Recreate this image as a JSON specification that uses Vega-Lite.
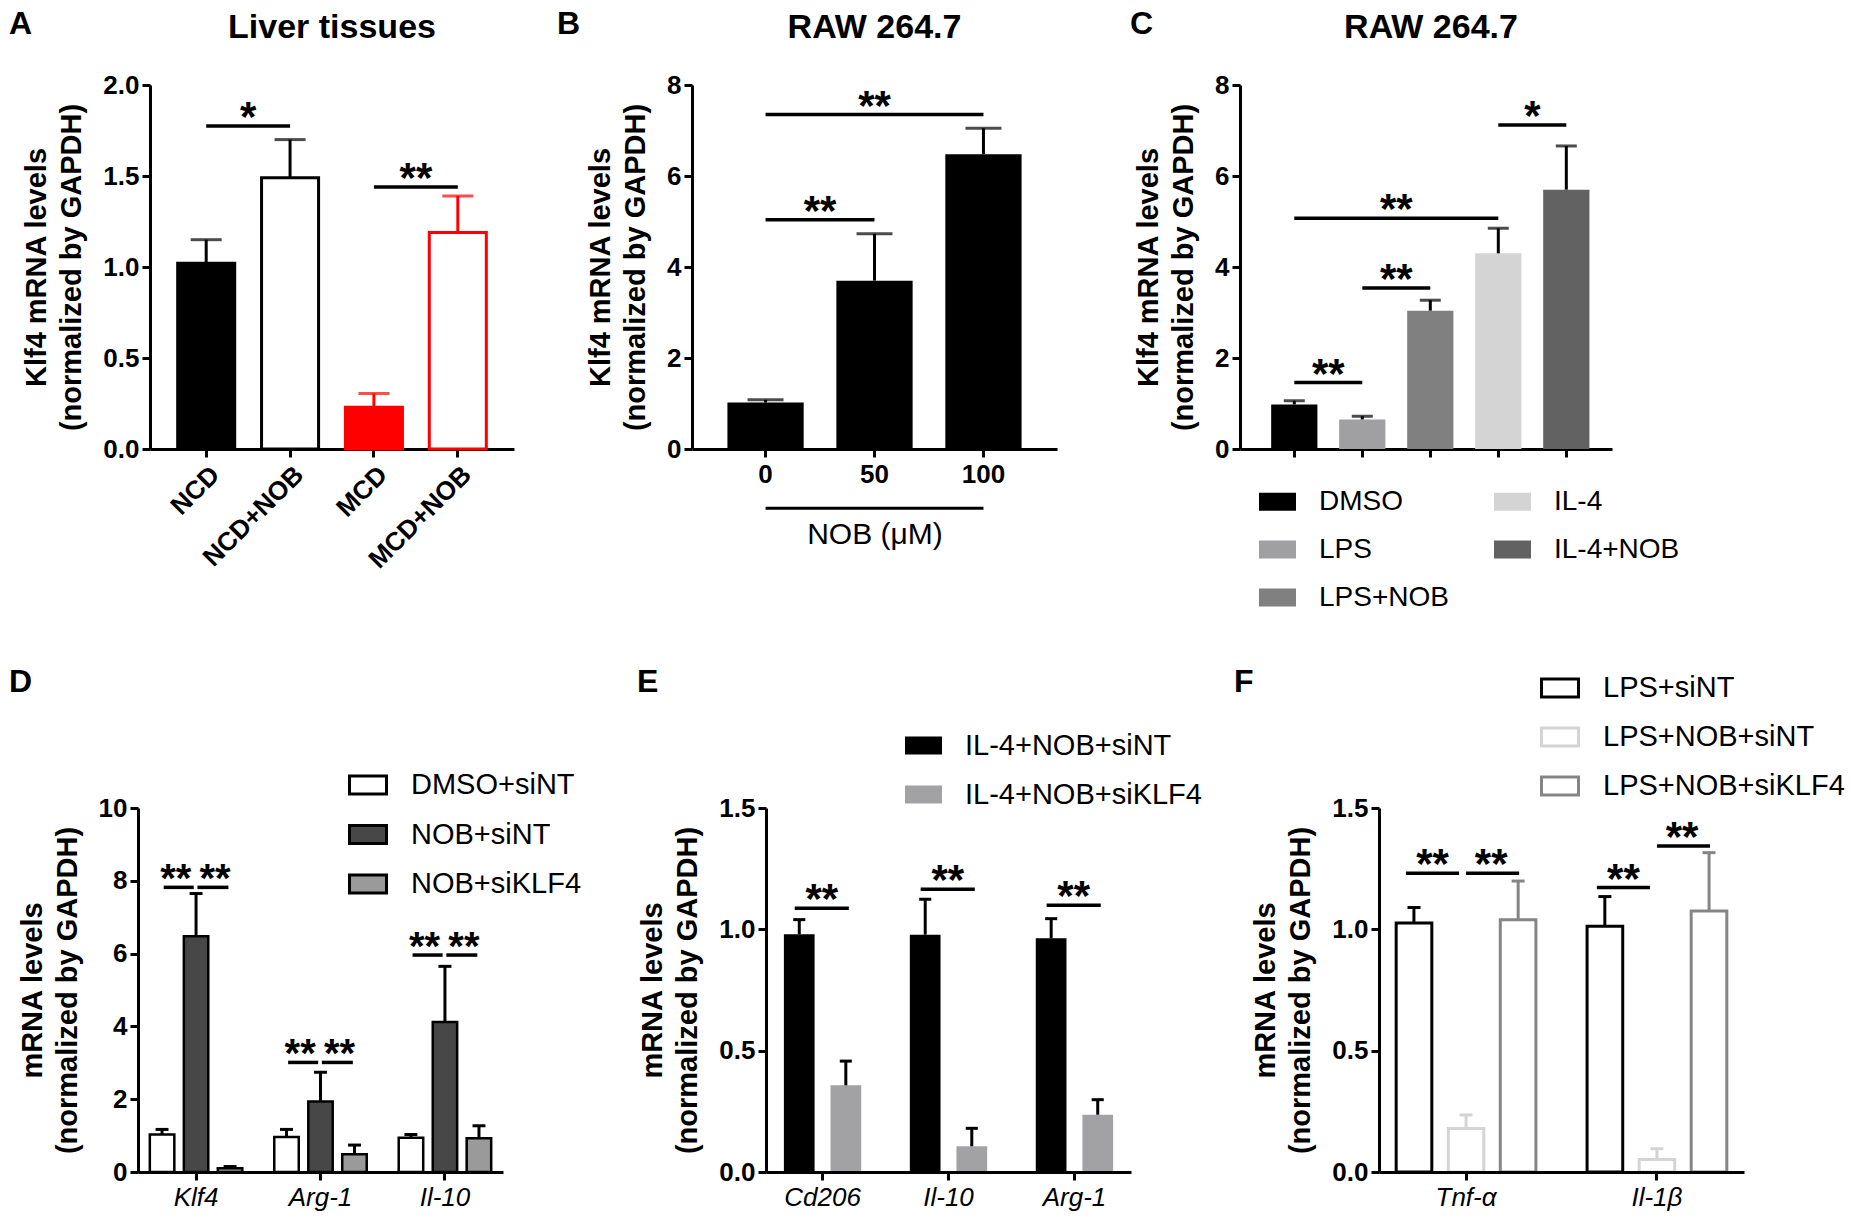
{
  "$schema": "https://vega.github.io/schema/vega-lite/v6.json",
  "padding": {"left": 9, "top": 8, "right": 4, "bottom": 4},
  "background": "white",
  "config": {
    "font": "Liberation Sans",
    "view": {"stroke": null},
    "axis": {"domainColor": "#000", "domainWidth": 3, "tickColor": "#000", "tickWidth": 3, "tickSize": 8, "labelColor": "#000", "labelFont": "Liberation Sans", "labelFontSize": 26, "labelFontWeight": "bold", "labelPadding": 3, "titleFont": "Liberation Sans", "titleFontSize": 29, "titleFontWeight": "bold", "titleColor": "#000", "titleLineHeight": 35, "grid": false, "labelOverlap": false, "labelLimit": 400},
    "axisY": {"titlePadding": 16},
    "axisX": {"labelPadding": 4},
    "legend": {"symbolType": "M-1,-0.49H1V0.49H-1Z", "symbolSize": 1369, "labelOffset": 23, "labelFont": "Liberation Sans", "labelColor": "#000", "labelLimit": 600, "padding": 0, "titlePadding": 0},
    "title": {"font": "Liberation Sans", "fontWeight": "bold", "color": "#000"}
  },
  "datasets": {
    "A": [
      {"group": "NCD", "mean": 1.02, "upper": 1.15},
      {"group": "NCD+NOB", "mean": 1.49, "upper": 1.70},
      {"group": "MCD", "mean": 0.23, "upper": 0.305},
      {"group": "MCD+NOB", "mean": 1.19, "upper": 1.39}
    ],
    "A_sig": [
      {"from": "NCD", "to": "NCD+NOB", "y": 1.775, "label": "*"},
      {"from": "MCD", "to": "MCD+NOB", "y": 1.44, "label": "**"}
    ],
    "B": [
      {"dose": "0", "mean": 1.02, "upper": 1.08},
      {"dose": "50", "mean": 3.70, "upper": 4.73},
      {"dose": "100", "mean": 6.48, "upper": 7.05}
    ],
    "B_sig": [
      {"from": "0", "to": "50", "y": 5.04},
      {"from": "0", "to": "100", "y": 7.35}
    ],
    "B_star": [
      {"at": "0", "y": 5.04, "pos": "half", "label": "**"},
      {"at": "50", "y": 7.35, "pos": "center", "label": "**"}
    ],
    "B_line": [
      {"from": "0", "to": "100", "y": -1.3}
    ],
    "C": [
      {"t": "DMSO", "mean": 0.98, "upper": 1.06},
      {"t": "LPS", "mean": 0.65, "upper": 0.72},
      {"t": "LPS+NOB", "mean": 3.04, "upper": 3.27},
      {"t": "IL-4", "mean": 4.30, "upper": 4.85},
      {"t": "IL-4+NOB", "mean": 5.70, "upper": 6.66}
    ],
    "C_sig": [
      {"from": "DMSO", "to": "LPS", "y": 1.46},
      {"from": "LPS", "to": "LPS+NOB", "y": 3.54},
      {"from": "DMSO", "to": "IL-4", "y": 5.07},
      {"from": "IL-4", "to": "IL-4+NOB", "y": 7.12}
    ],
    "C_star": [
      {"at": "DMSO", "y": 1.46, "label": "**"},
      {"at": "LPS", "y": 3.54, "label": "**"},
      {"at": "LPS", "y": 5.07, "label": "**"},
      {"at": "IL-4", "y": 7.12, "label": "*"}
    ],
    "D": [
      {"gene": "Klf4", "series": "DMSO+siNT", "mean": 1.03, "upper": 1.17},
      {"gene": "Klf4", "series": "NOB+siNT", "mean": 6.48, "upper": 7.65},
      {"gene": "Klf4", "series": "NOB+siKLF4", "mean": 0.10, "upper": 0.15},
      {"gene": "Arg-1", "series": "DMSO+siNT", "mean": 0.96, "upper": 1.17},
      {"gene": "Arg-1", "series": "NOB+siNT", "mean": 1.94, "upper": 2.74},
      {"gene": "Arg-1", "series": "NOB+siKLF4", "mean": 0.49, "upper": 0.74},
      {"gene": "Il-10", "series": "DMSO+siNT", "mean": 0.94, "upper": 1.03},
      {"gene": "Il-10", "series": "NOB+siNT", "mean": 4.12, "upper": 5.65},
      {"gene": "Il-10", "series": "NOB+siKLF4", "mean": 0.93, "upper": 1.27}
    ],
    "D_sig": [
      {"gene": "Klf4", "side": "L", "y": 7.82},
      {"gene": "Klf4", "side": "R", "y": 7.82},
      {"gene": "Arg-1", "side": "L", "y": 3.01},
      {"gene": "Arg-1", "side": "R", "y": 3.01},
      {"gene": "Il-10", "side": "L", "y": 5.96},
      {"gene": "Il-10", "side": "R", "y": 5.96}
    ],
    "E": [
      {"gene": "Cd206", "series": "IL-4+NOB+siNT", "mean": 0.98, "upper": 1.04},
      {"gene": "Cd206", "series": "IL-4+NOB+siKLF4", "mean": 0.357, "upper": 0.457},
      {"gene": "Il-10", "series": "IL-4+NOB+siNT", "mean": 0.978, "upper": 1.124},
      {"gene": "Il-10", "series": "IL-4+NOB+siKLF4", "mean": 0.106, "upper": 0.18},
      {"gene": "Arg-1", "series": "IL-4+NOB+siNT", "mean": 0.963, "upper": 1.044},
      {"gene": "Arg-1", "series": "IL-4+NOB+siKLF4", "mean": 0.236, "upper": 0.298}
    ],
    "E_sig": [
      {"gene": "Cd206", "y": 1.087},
      {"gene": "Il-10", "y": 1.165},
      {"gene": "Arg-1", "y": 1.099}
    ],
    "F": [
      {"gene": "Tnf-α", "series": "LPS+siNT", "mean": 1.026, "upper": 1.09},
      {"gene": "Tnf-α", "series": "LPS+NOB+siNT", "mean": 0.179, "upper": 0.235},
      {"gene": "Tnf-α", "series": "LPS+NOB+siKLF4", "mean": 1.04, "upper": 1.199},
      {"gene": "Il-1β", "series": "LPS+siNT", "mean": 1.013, "upper": 1.135},
      {"gene": "Il-1β", "series": "LPS+NOB+siNT", "mean": 0.051, "upper": 0.096},
      {"gene": "Il-1β", "series": "LPS+NOB+siKLF4", "mean": 1.076, "upper": 1.316}
    ],
    "F_sig": [
      {"gene": "Tnf-α", "side": "L", "y": 1.231},
      {"gene": "Tnf-α", "side": "R", "y": 1.231},
      {"gene": "Il-1β", "side": "L", "y": 1.172},
      {"gene": "Il-1β", "side": "R", "y": 1.343}
    ]
  },
  "vconcat": [
    {
      "hconcat": [
        {"width": 13, "height": 364, "data": {"values": [{}]}, "mark": {"type": "rect", "fillOpacity": 0, "strokeOpacity": 0}, "encoding": {},
         "title": {"text": "A", "anchor": "start", "frame": "group", "dx": -128, "offset": 19, "fontSize": 32, "baseline": "alphabetic"}},
        {
          "width": 364, "height": 364,
          "title": {"text": "Liver tissues", "fontSize": 34, "anchor": "middle", "offset": 0, "baseline": "alphabetic"},
          "layer": [
            {"data": {"name": "A"}, "mark": {"type": "bar", "strokeWidth": 3},
             "encoding": {
               "x": {"field": "group", "type": "nominal", "scale": {"type": "band", "domain": ["NCD", "NCD+NOB", "MCD", "MCD+NOB"], "paddingInner": 0.32, "paddingOuter": 0.33}, "axis": {"title": null, "labelAngle": -45}},
               "y": {"field": "mean", "type": "quantitative", "scale": {"domain": [0, 2], "nice": false}, "axis": {"values": [0, 0.5, 1, 1.5, 2], "format": ".1f", "title": ["Klf4 mRNA levels", "(normalized by GAPDH)"]}},
               "fill": {"field": "group", "type": "nominal", "scale": {"domain": ["NCD", "NCD+NOB", "MCD", "MCD+NOB"], "range": ["#000000", "#ffffff", "#ff0000", "#ffffff"]}, "legend": null},
               "stroke": {"field": "group", "type": "nominal", "scale": {"domain": ["NCD", "NCD+NOB", "MCD", "MCD+NOB"], "range": ["#000000", "#000000", "#ff0000", "#ff0000"]}, "legend": null}
             }},
            {"data": {"name": "A"}, "mark": {"type": "rule", "strokeWidth": 3},
             "encoding": {
               "x": {"field": "group", "type": "nominal"},
               "y": {"field": "mean", "type": "quantitative"},
               "y2": {"field": "upper"},
               "color": {"field": "group", "type": "nominal", "scale": {"domain": ["NCD", "NCD+NOB", "MCD", "MCD+NOB"], "range": ["#000000", "#000000", "#ff0000", "#ff0000"]}, "legend": null}
             }},
            {"data": {"name": "A"}, "mark": {"type": "tick", "orient": "horizontal", "thickness": 3, "size": 31},
             "encoding": {
               "x": {"field": "group", "type": "nominal"},
               "y": {"field": "upper", "type": "quantitative"},
               "color": {"field": "group", "type": "nominal", "legend": null}
             }},
            {"data": {"name": "A_sig"}, "mark": {"type": "rule", "strokeWidth": 3.5, "color": "#000"},
             "encoding": {"x": {"field": "from", "type": "nominal"}, "x2": {"field": "to"}, "y": {"field": "y", "type": "quantitative"}}},
            {"data": {"name": "A_sig"}, "mark": {"type": "text", "fontSize": 42, "fontWeight": "bold", "baseline": "alphabetic", "dx": 42, "dy": 5, "color": "#000"},
             "encoding": {"x": {"field": "from", "type": "nominal"}, "y": {"field": "y", "type": "quantitative"}, "text": {"field": "label"}}}
          ]
        },
        {"width": 178, "height": 364, "data": {"values": [{}]}, "mark": {"type": "rect", "fillOpacity": 0, "strokeOpacity": 0}, "encoding": {},
         "title": {"text": "B", "anchor": "start", "frame": "group", "dx": 43, "offset": 19, "fontSize": 32, "baseline": "alphabetic"}},
        {
          "width": 365, "height": 364,
          "title": {"text": "RAW 264.7", "fontSize": 34, "anchor": "middle", "offset": 0, "baseline": "alphabetic"},
          "layer": [
            {"data": {"name": "B"}, "mark": {"type": "bar", "color": "#000"},
             "encoding": {
               "x": {"field": "dose", "type": "nominal", "scale": {"type": "band", "domain": ["0", "50", "100"], "paddingInner": 0.3, "paddingOuter": 0.325}, "axis": {"title": "NOB (μM)", "labelAngle": 0, "titleFontWeight": "normal", "titleFontSize": 30, "titlePadding": 32}},
               "y": {"field": "mean", "type": "quantitative", "scale": {"domain": [0, 8], "nice": false}, "axis": {"values": [0, 2, 4, 6, 8], "title": ["Klf4 mRNA levels", "(normalized by GAPDH)"]}}
             }},
            {"data": {"name": "B"}, "mark": {"type": "rule", "strokeWidth": 3, "color": "#000"},
             "encoding": {"x": {"field": "dose", "type": "nominal"}, "y": {"field": "mean", "type": "quantitative"}, "y2": {"field": "upper"}}},
            {"data": {"name": "B"}, "mark": {"type": "tick", "orient": "horizontal", "thickness": 3, "size": 36, "color": "#000"},
             "encoding": {"x": {"field": "dose", "type": "nominal"}, "y": {"field": "upper", "type": "quantitative"}}},
            {"data": {"name": "B_sig"}, "mark": {"type": "rule", "strokeWidth": 3.5, "color": "#000"},
             "encoding": {"x": {"field": "from", "type": "nominal"}, "x2": {"field": "to"}, "y": {"field": "y", "type": "quantitative"}}},
            {"data": {"name": "B_line"}, "mark": {"type": "rule", "strokeWidth": 3, "color": "#000"},
             "encoding": {"x": {"field": "from", "type": "nominal"}, "x2": {"field": "to"}, "y": {"field": "y", "type": "quantitative"}}},
            {"data": {"name": "B_star"}, "transform": [{"filter": "datum.pos === 'half'"}], "mark": {"type": "text", "fontSize": 42, "fontWeight": "bold", "baseline": "alphabetic", "dx": 54.5, "dy": 5, "color": "#000"},
             "encoding": {"x": {"field": "at", "type": "nominal"}, "y": {"field": "y", "type": "quantitative"}, "text": {"field": "label"}}},
            {"data": {"name": "B_star"}, "transform": [{"filter": "datum.pos === 'center'"}], "mark": {"type": "text", "fontSize": 42, "fontWeight": "bold", "baseline": "alphabetic", "dy": 5, "color": "#000"},
             "encoding": {"x": {"field": "at", "type": "nominal"}, "y": {"field": "y", "type": "quantitative"}, "text": {"field": "label"}}}
          ]
        },
        {"width": 183, "height": 364, "data": {"values": [{}]}, "mark": {"type": "rect", "fillOpacity": 0, "strokeOpacity": 0}, "encoding": {},
         "title": {"text": "C", "anchor": "start", "frame": "group", "dx": 73, "offset": 19, "fontSize": 32, "baseline": "alphabetic"}},
        {
          "width": 372, "height": 364,
          "title": {"text": "RAW 264.7", "fontSize": 34, "anchor": "middle", "dx": 5, "offset": 0, "baseline": "alphabetic"},
          "layer": [
            {"data": {"name": "C"}, "mark": {"type": "bar"},
             "encoding": {
               "x": {"field": "t", "type": "nominal", "scale": {"type": "band", "domain": ["DMSO", "LPS", "LPS+NOB", "IL-4", "IL-4+NOB"], "paddingInner": 0.32, "paddingOuter": 0.395, "align": 0.58}, "axis": {"title": null, "labels": false}},
               "y": {"field": "mean", "type": "quantitative", "scale": {"domain": [0, 8], "nice": false}, "axis": {"values": [0, 2, 4, 6, 8], "title": ["Klf4 mRNA levels", "(normalized by GAPDH)"]}},
               "fill": {"field": "t", "type": "nominal", "scale": {"domain": ["DMSO", "LPS", "LPS+NOB", "IL-4", "IL-4+NOB"], "range": ["#000000", "#a0a0a3", "#808080", "#d4d4d4", "#626262"]},
                        "legend": {"title": null, "orient": "none", "legendX": 19, "legendY": 398, "columns": 2, "columnPadding": 45, "rowPadding": 15, "labelFontSize": 28, "symbolStrokeWidth": 0}}
             }},
            {"data": {"name": "C"}, "mark": {"type": "rule", "strokeWidth": 3, "color": "#000"},
             "encoding": {"x": {"field": "t", "type": "nominal"}, "y": {"field": "mean", "type": "quantitative"}, "y2": {"field": "upper"}}},
            {"data": {"name": "C"}, "mark": {"type": "tick", "orient": "horizontal", "thickness": 3, "size": 21, "color": "#000"},
             "encoding": {"x": {"field": "t", "type": "nominal"}, "y": {"field": "upper", "type": "quantitative"}}},
            {"data": {"name": "C_sig"}, "mark": {"type": "rule", "strokeWidth": 3.5, "color": "#000"},
             "encoding": {"x": {"field": "from", "type": "nominal"}, "x2": {"field": "to"}, "y": {"field": "y", "type": "quantitative"}}},
            {"data": {"name": "C_star"}, "mark": {"type": "text", "fontSize": 42, "fontWeight": "bold", "baseline": "alphabetic", "dx": 34, "dy": 5, "color": "#000"},
             "encoding": {"x": {"field": "at", "type": "nominal"}, "y": {"field": "y", "type": "quantitative"}, "text": {"field": "label"}}}
          ]
        }
      ],
      "spacing": 0,
      "bounds": "flush",
      "resolve": {"scale": {"fill": "independent", "stroke": "independent", "color": "independent"}}
    },
    {
      "hconcat": [
        {"width": 1, "height": 364, "data": {"values": [{}]}, "mark": {"type": "rect", "fillOpacity": 0, "strokeOpacity": 0}, "encoding": {},
         "title": {"text": "D", "anchor": "start", "frame": "group", "dx": -128, "offset": 84, "fontSize": 32, "baseline": "alphabetic"}},
        {
          "width": 365, "height": 364,
          "layer": [
            {"data": {"name": "D"}, "transform": [{"filter": "datum.series === 'DMSO+siNT'"}], "mark": {"type": "rect", "stroke": "#000", "strokeWidth": 2.5},
             "encoding": {
               "x": {"field": "gene", "type": "nominal", "bandPosition": 0, "scale": {"type": "band", "domain": ["Klf4", "Arg-1", "Il-10"], "paddingInner": 0.257, "paddingOuter": 0.095}, "axis": {"title": null, "labelAngle": 0, "labelFontStyle": "italic", "labelFontWeight": "normal"}},
               "x2": {"field": "gene", "bandPosition": 0.265},
               "y": {"field": "mean", "type": "quantitative", "scale": {"domain": [0, 10], "nice": false}, "axis": {"values": [0, 2, 4, 6, 8, 10], "title": ["mRNA levels", "(normalized by GAPDH)"]}},
               "y2": {"datum": 0},
               "fill": {"field": "series", "type": "nominal", "scale": {"domain": ["DMSO+siNT", "NOB+siNT", "NOB+siKLF4"], "range": ["#ffffff", "#474747", "#9a9a9a"]},
                        "legend": {"title": null, "orient": "none", "legendX": 210, "legendY": -43, "rowPadding": 13.5, "labelFontSize": 29, "symbolStrokeColor": "#000", "symbolStrokeWidth": 3}}
             }},
            {"data": {"name": "D"}, "transform": [{"filter": "datum.series === 'NOB+siNT'"}], "mark": {"type": "rect", "stroke": "#000", "strokeWidth": 2.5},
             "encoding": {
               "x": {"field": "gene", "type": "nominal", "bandPosition": 0.368}, "x2": {"field": "gene", "bandPosition": 0.632},
               "y": {"field": "mean", "type": "quantitative"}, "y2": {"datum": 0},
               "fill": {"field": "series", "type": "nominal", "legend": {"title": null, "orient": "none", "legendX": 210, "legendY": -43, "rowPadding": 13.5, "labelFontSize": 29, "symbolStrokeColor": "#000", "symbolStrokeWidth": 3}}
             }},
            {"data": {"name": "D"}, "transform": [{"filter": "datum.series === 'NOB+siKLF4'"}], "mark": {"type": "rect", "stroke": "#000", "strokeWidth": 2.5},
             "encoding": {
               "x": {"field": "gene", "type": "nominal", "bandPosition": 0.735}, "x2": {"field": "gene", "bandPosition": 1},
               "y": {"field": "mean", "type": "quantitative"}, "y2": {"datum": 0},
               "fill": {"field": "series", "type": "nominal", "legend": {"title": null, "orient": "none", "legendX": 210, "legendY": -43, "rowPadding": 13.5, "labelFontSize": 29, "symbolStrokeColor": "#000", "symbolStrokeWidth": 3}}
             }},
            {"data": {"name": "D"}, "transform": [{"filter": "datum.series === 'DMSO+siNT'"}], "mark": {"type": "rule", "strokeWidth": 3, "color": "#000"},
             "encoding": {"x": {"field": "gene", "type": "nominal", "bandPosition": 0.132}, "y": {"field": "mean", "type": "quantitative"}, "y2": {"field": "upper"}}},
            {"data": {"name": "D"}, "transform": [{"filter": "datum.series === 'NOB+siNT'"}], "mark": {"type": "rule", "strokeWidth": 3, "color": "#000"},
             "encoding": {"x": {"field": "gene", "type": "nominal", "bandPosition": 0.5}, "y": {"field": "mean", "type": "quantitative"}, "y2": {"field": "upper"}}},
            {"data": {"name": "D"}, "transform": [{"filter": "datum.series === 'NOB+siKLF4'"}], "mark": {"type": "rule", "strokeWidth": 3, "color": "#000"},
             "encoding": {"x": {"field": "gene", "type": "nominal", "bandPosition": 0.868}, "y": {"field": "mean", "type": "quantitative"}, "y2": {"field": "upper"}}},
            {"data": {"name": "D"}, "transform": [{"filter": "datum.series === 'DMSO+siNT'"}], "mark": {"type": "rule", "strokeWidth": 3, "color": "#000"},
             "encoding": {"x": {"field": "gene", "type": "nominal", "bandPosition": 0.062}, "x2": {"field": "gene", "bandPosition": 0.202}, "y": {"field": "upper", "type": "quantitative"}}},
            {"data": {"name": "D"}, "transform": [{"filter": "datum.series === 'NOB+siNT'"}], "mark": {"type": "rule", "strokeWidth": 3, "color": "#000"},
             "encoding": {"x": {"field": "gene", "type": "nominal", "bandPosition": 0.43}, "x2": {"field": "gene", "bandPosition": 0.57}, "y": {"field": "upper", "type": "quantitative"}}},
            {"data": {"name": "D"}, "transform": [{"filter": "datum.series === 'NOB+siKLF4'"}], "mark": {"type": "rule", "strokeWidth": 3, "color": "#000"},
             "encoding": {"x": {"field": "gene", "type": "nominal", "bandPosition": 0.798}, "x2": {"field": "gene", "bandPosition": 0.938}, "y": {"field": "upper", "type": "quantitative"}}},
            {"data": {"name": "D_sig"}, "transform": [{"filter": "datum.side === 'L'"}], "mark": {"type": "rule", "strokeWidth": 3.5, "color": "#000"},
             "encoding": {"x": {"field": "gene", "type": "nominal", "bandPosition": 0.15}, "x2": {"field": "gene", "bandPosition": 0.475}, "y": {"field": "y", "type": "quantitative"}}},
            {"data": {"name": "D_sig"}, "transform": [{"filter": "datum.side === 'R'"}], "mark": {"type": "rule", "strokeWidth": 3.5, "color": "#000"},
             "encoding": {"x": {"field": "gene", "type": "nominal", "bandPosition": 0.515}, "x2": {"field": "gene", "bandPosition": 0.85}, "y": {"field": "y", "type": "quantitative"}}},
            {"data": {"name": "D_sig"}, "transform": [{"filter": "datum.side === 'L'"}], "mark": {"type": "text", "fontSize": 40, "fontWeight": "bold", "baseline": "alphabetic", "dy": 5, "color": "#000", "text": "**"},
             "encoding": {"x": {"field": "gene", "type": "nominal", "bandPosition": 0.28}, "y": {"field": "y", "type": "quantitative"}}},
            {"data": {"name": "D_sig"}, "transform": [{"filter": "datum.side === 'R'"}], "mark": {"type": "text", "fontSize": 40, "fontWeight": "bold", "baseline": "alphabetic", "dy": 5, "color": "#000", "text": "**"},
             "encoding": {"x": {"field": "gene", "type": "nominal", "bandPosition": 0.705}, "y": {"field": "y", "type": "quantitative"}}}
          ]
        },
        {"width": 263, "height": 364, "data": {"values": [{}]}, "mark": {"type": "rect", "fillOpacity": 0, "strokeOpacity": 0}, "encoding": {},
         "title": {"text": "E", "anchor": "start", "frame": "group", "dx": 134, "offset": 84, "fontSize": 32, "baseline": "alphabetic"}},
        {
          "width": 365, "height": 364,
          "layer": [
            {"data": {"name": "E"}, "transform": [{"filter": "datum.series === 'IL-4+NOB+siNT'"}], "mark": {"type": "rect"},
             "encoding": {
               "x": {"field": "gene", "type": "nominal", "bandPosition": 0, "scale": {"type": "band", "domain": ["Cd206", "Il-10", "Arg-1"], "paddingInner": 0.386, "paddingOuter": 0.142}, "axis": {"title": null, "labelAngle": 0, "labelFontStyle": "italic", "labelFontWeight": "normal"}},
               "x2": {"field": "gene", "bandPosition": 0.397},
               "y": {"field": "mean", "type": "quantitative", "scale": {"domain": [0, 1.5], "nice": false}, "axis": {"values": [0, 0.5, 1, 1.5], "format": ".1f", "title": ["mRNA levels", "(normalized by GAPDH)"]}},
               "y2": {"datum": 0},
               "fill": {"field": "series", "type": "nominal", "scale": {"domain": ["IL-4+NOB+siNT", "IL-4+NOB+siKLF4"], "range": ["#000000", "#a2a2a4"]},
                        "legend": {"title": null, "orient": "none", "legendX": 139, "legendY": -81, "rowPadding": 15, "labelFontSize": 29, "symbolStrokeWidth": 0}}
             }},
            {"data": {"name": "E"}, "transform": [{"filter": "datum.series === 'IL-4+NOB+siKLF4'"}], "mark": {"type": "rect"},
             "encoding": {
               "x": {"field": "gene", "type": "nominal", "bandPosition": 0.603}, "x2": {"field": "gene", "bandPosition": 1},
               "y": {"field": "mean", "type": "quantitative"}, "y2": {"datum": 0},
               "fill": {"field": "series", "type": "nominal", "legend": {"title": null, "orient": "none", "legendX": 139, "legendY": -81, "rowPadding": 15, "labelFontSize": 29, "symbolStrokeWidth": 0}}
             }},
            {"data": {"name": "E"}, "transform": [{"filter": "datum.series === 'IL-4+NOB+siNT'"}], "mark": {"type": "rule", "strokeWidth": 3, "color": "#000"},
             "encoding": {"x": {"field": "gene", "type": "nominal", "bandPosition": 0.199}, "y": {"field": "mean", "type": "quantitative"}, "y2": {"field": "upper"}}},
            {"data": {"name": "E"}, "transform": [{"filter": "datum.series === 'IL-4+NOB+siKLF4'"}], "mark": {"type": "rule", "strokeWidth": 3, "color": "#000"},
             "encoding": {"x": {"field": "gene", "type": "nominal", "bandPosition": 0.801}, "y": {"field": "mean", "type": "quantitative"}, "y2": {"field": "upper"}}},
            {"data": {"name": "E"}, "transform": [{"filter": "datum.series === 'IL-4+NOB+siNT'"}], "mark": {"type": "rule", "strokeWidth": 3, "color": "#000"},
             "encoding": {"x": {"field": "gene", "type": "nominal", "bandPosition": 0.121}, "x2": {"field": "gene", "bandPosition": 0.277}, "y": {"field": "upper", "type": "quantitative"}}},
            {"data": {"name": "E"}, "transform": [{"filter": "datum.series === 'IL-4+NOB+siKLF4'"}], "mark": {"type": "rule", "strokeWidth": 3, "color": "#000"},
             "encoding": {"x": {"field": "gene", "type": "nominal", "bandPosition": 0.723}, "x2": {"field": "gene", "bandPosition": 0.879}, "y": {"field": "upper", "type": "quantitative"}}},
            {"data": {"name": "E_sig"}, "mark": {"type": "rule", "strokeWidth": 3.5, "color": "#000"},
             "encoding": {"x": {"field": "gene", "type": "nominal", "bandPosition": 0.14}, "x2": {"field": "gene", "bandPosition": 0.84}, "y": {"field": "y", "type": "quantitative"}}},
            {"data": {"name": "E_sig"}, "mark": {"type": "text", "fontSize": 42, "fontWeight": "bold", "baseline": "alphabetic", "dy": 5, "color": "#000", "text": "**"},
             "encoding": {"x": {"field": "gene", "type": "nominal", "bandPosition": 0.49}, "y": {"field": "y", "type": "quantitative"}}}
          ]
        },
        {"width": 248, "height": 364, "data": {"values": [{}]}, "mark": {"type": "rect", "fillOpacity": 0, "strokeOpacity": 0}, "encoding": {},
         "title": {"text": "F", "anchor": "start", "frame": "group", "dx": 103, "offset": 84, "fontSize": 32, "baseline": "alphabetic"}},
        {
          "width": 365, "height": 364,
          "layer": [
            {"data": {"name": "F"}, "transform": [{"filter": "datum.series === 'LPS+siNT'"}], "mark": {"type": "rect", "strokeWidth": 3},
             "encoding": {
               "x": {"field": "gene", "type": "nominal", "bandPosition": 0, "scale": {"type": "band", "domain": ["Tnf-α", "Il-1β"], "paddingInner": 0.268, "paddingOuter": 0.09}, "axis": {"title": null, "labelAngle": 0, "labelFontStyle": "italic", "labelFontWeight": "normal"}},
               "x2": {"field": "gene", "bandPosition": 0.255},
               "y": {"field": "mean", "type": "quantitative", "scale": {"domain": [0, 1.5], "nice": false}, "axis": {"values": [0, 0.5, 1, 1.5], "format": ".1f", "title": ["mRNA levels", "(normalized by GAPDH)"]}},
               "y2": {"datum": 0},
               "fill": {"field": "series", "type": "nominal", "scale": {"domain": ["LPS+siNT", "LPS+NOB+siNT", "LPS+NOB+siKLF4"], "range": ["#ffffff", "#ffffff", "#ffffff"]},
                        "legend": {"title": null, "orient": "none", "legendX": 161, "legendY": -140, "rowPadding": 13, "labelFontSize": 29, "symbolStrokeWidth": 3}},
               "stroke": {"field": "series", "type": "nominal", "scale": {"domain": ["LPS+siNT", "LPS+NOB+siNT", "LPS+NOB+siKLF4"], "range": ["#000000", "#d4d4d4", "#858585"]},
                          "legend": {"title": null, "orient": "none", "legendX": 161, "legendY": -140, "rowPadding": 13, "labelFontSize": 29, "symbolStrokeWidth": 3}}
             }},
            {"data": {"name": "F"}, "transform": [{"filter": "datum.series === 'LPS+NOB+siNT'"}], "mark": {"type": "rect", "strokeWidth": 3},
             "encoding": {
               "x": {"field": "gene", "type": "nominal", "bandPosition": 0.373}, "x2": {"field": "gene", "bandPosition": 0.627},
               "y": {"field": "mean", "type": "quantitative"}, "y2": {"datum": 0},
               "fill": {"field": "series", "type": "nominal", "legend": {"title": null, "orient": "none", "legendX": 161, "legendY": -140, "rowPadding": 13, "labelFontSize": 29, "symbolStrokeWidth": 3}},
               "stroke": {"field": "series", "type": "nominal", "legend": {"title": null, "orient": "none", "legendX": 161, "legendY": -140, "rowPadding": 13, "labelFontSize": 29, "symbolStrokeWidth": 3}}
             }},
            {"data": {"name": "F"}, "transform": [{"filter": "datum.series === 'LPS+NOB+siKLF4'"}], "mark": {"type": "rect", "strokeWidth": 3},
             "encoding": {
               "x": {"field": "gene", "type": "nominal", "bandPosition": 0.745}, "x2": {"field": "gene", "bandPosition": 1},
               "y": {"field": "mean", "type": "quantitative"}, "y2": {"datum": 0},
               "fill": {"field": "series", "type": "nominal", "legend": {"title": null, "orient": "none", "legendX": 161, "legendY": -140, "rowPadding": 13, "labelFontSize": 29, "symbolStrokeWidth": 3}},
               "stroke": {"field": "series", "type": "nominal", "legend": {"title": null, "orient": "none", "legendX": 161, "legendY": -140, "rowPadding": 13, "labelFontSize": 29, "symbolStrokeWidth": 3}}
             }},
            {"data": {"name": "F"}, "transform": [{"filter": "datum.series === 'LPS+siNT'"}], "mark": {"type": "rule", "strokeWidth": 3},
             "encoding": {"x": {"field": "gene", "type": "nominal", "bandPosition": 0.127}, "y": {"field": "mean", "type": "quantitative"}, "y2": {"field": "upper"},
                          "color": {"field": "series", "type": "nominal", "scale": {"domain": ["LPS+siNT", "LPS+NOB+siNT", "LPS+NOB+siKLF4"], "range": ["#000000", "#d4d4d4", "#858585"]}, "legend": null}}},
            {"data": {"name": "F"}, "transform": [{"filter": "datum.series === 'LPS+NOB+siNT'"}], "mark": {"type": "rule", "strokeWidth": 3},
             "encoding": {"x": {"field": "gene", "type": "nominal", "bandPosition": 0.5}, "y": {"field": "mean", "type": "quantitative"}, "y2": {"field": "upper"},
                          "color": {"field": "series", "type": "nominal", "legend": null}}},
            {"data": {"name": "F"}, "transform": [{"filter": "datum.series === 'LPS+NOB+siKLF4'"}], "mark": {"type": "rule", "strokeWidth": 3},
             "encoding": {"x": {"field": "gene", "type": "nominal", "bandPosition": 0.873}, "y": {"field": "mean", "type": "quantitative"}, "y2": {"field": "upper"},
                          "color": {"field": "series", "type": "nominal", "legend": null}}},
            {"data": {"name": "F"}, "transform": [{"filter": "datum.series === 'LPS+siNT'"}], "mark": {"type": "rule", "strokeWidth": 3},
             "encoding": {"x": {"field": "gene", "type": "nominal", "bandPosition": 0.081}, "x2": {"field": "gene", "bandPosition": 0.174}, "y": {"field": "upper", "type": "quantitative"},
                          "color": {"field": "series", "type": "nominal", "legend": null}}},
            {"data": {"name": "F"}, "transform": [{"filter": "datum.series === 'LPS+NOB+siNT'"}], "mark": {"type": "rule", "strokeWidth": 3},
             "encoding": {"x": {"field": "gene", "type": "nominal", "bandPosition": 0.454}, "x2": {"field": "gene", "bandPosition": 0.546}, "y": {"field": "upper", "type": "quantitative"},
                          "color": {"field": "series", "type": "nominal", "legend": null}}},
            {"data": {"name": "F"}, "transform": [{"filter": "datum.series === 'LPS+NOB+siKLF4'"}], "mark": {"type": "rule", "strokeWidth": 3},
             "encoding": {"x": {"field": "gene", "type": "nominal", "bandPosition": 0.826}, "x2": {"field": "gene", "bandPosition": 0.919}, "y": {"field": "upper", "type": "quantitative"},
                          "color": {"field": "series", "type": "nominal", "legend": null}}},
            {"data": {"name": "F_sig"}, "transform": [{"filter": "datum.side === 'L'"}], "mark": {"type": "rule", "strokeWidth": 3.5, "color": "#000"},
             "encoding": {"x": {"field": "gene", "type": "nominal", "bandPosition": 0.07}, "x2": {"field": "gene", "bandPosition": 0.45}, "y": {"field": "y", "type": "quantitative"}}},
            {"data": {"name": "F_sig"}, "transform": [{"filter": "datum.side === 'R'"}], "mark": {"type": "rule", "strokeWidth": 3.5, "color": "#000"},
             "encoding": {"x": {"field": "gene", "type": "nominal", "bandPosition": 0.5}, "x2": {"field": "gene", "bandPosition": 0.88}, "y": {"field": "y", "type": "quantitative"}}},
            {"data": {"name": "F_sig"}, "transform": [{"filter": "datum.side === 'L'"}], "mark": {"type": "text", "fontSize": 42, "fontWeight": "bold", "baseline": "alphabetic", "dy": 5, "color": "#000", "text": "**"},
             "encoding": {"x": {"field": "gene", "type": "nominal", "bandPosition": 0.26}, "y": {"field": "y", "type": "quantitative"}}},
            {"data": {"name": "F_sig"}, "transform": [{"filter": "datum.side === 'R'"}], "mark": {"type": "text", "fontSize": 42, "fontWeight": "bold", "baseline": "alphabetic", "dy": 5, "color": "#000", "text": "**"},
             "encoding": {"x": {"field": "gene", "type": "nominal", "bandPosition": 0.68}, "y": {"field": "y", "type": "quantitative"}}}
          ]
        }
      ],
      "spacing": 0,
      "bounds": "flush",
      "resolve": {"scale": {"fill": "independent", "stroke": "independent", "color": "independent"}}
    }
  ],
  "spacing": 723,
  "bounds": "flush",
  "resolve": {"scale": {"fill": "independent", "stroke": "independent", "color": "independent"}}
}
